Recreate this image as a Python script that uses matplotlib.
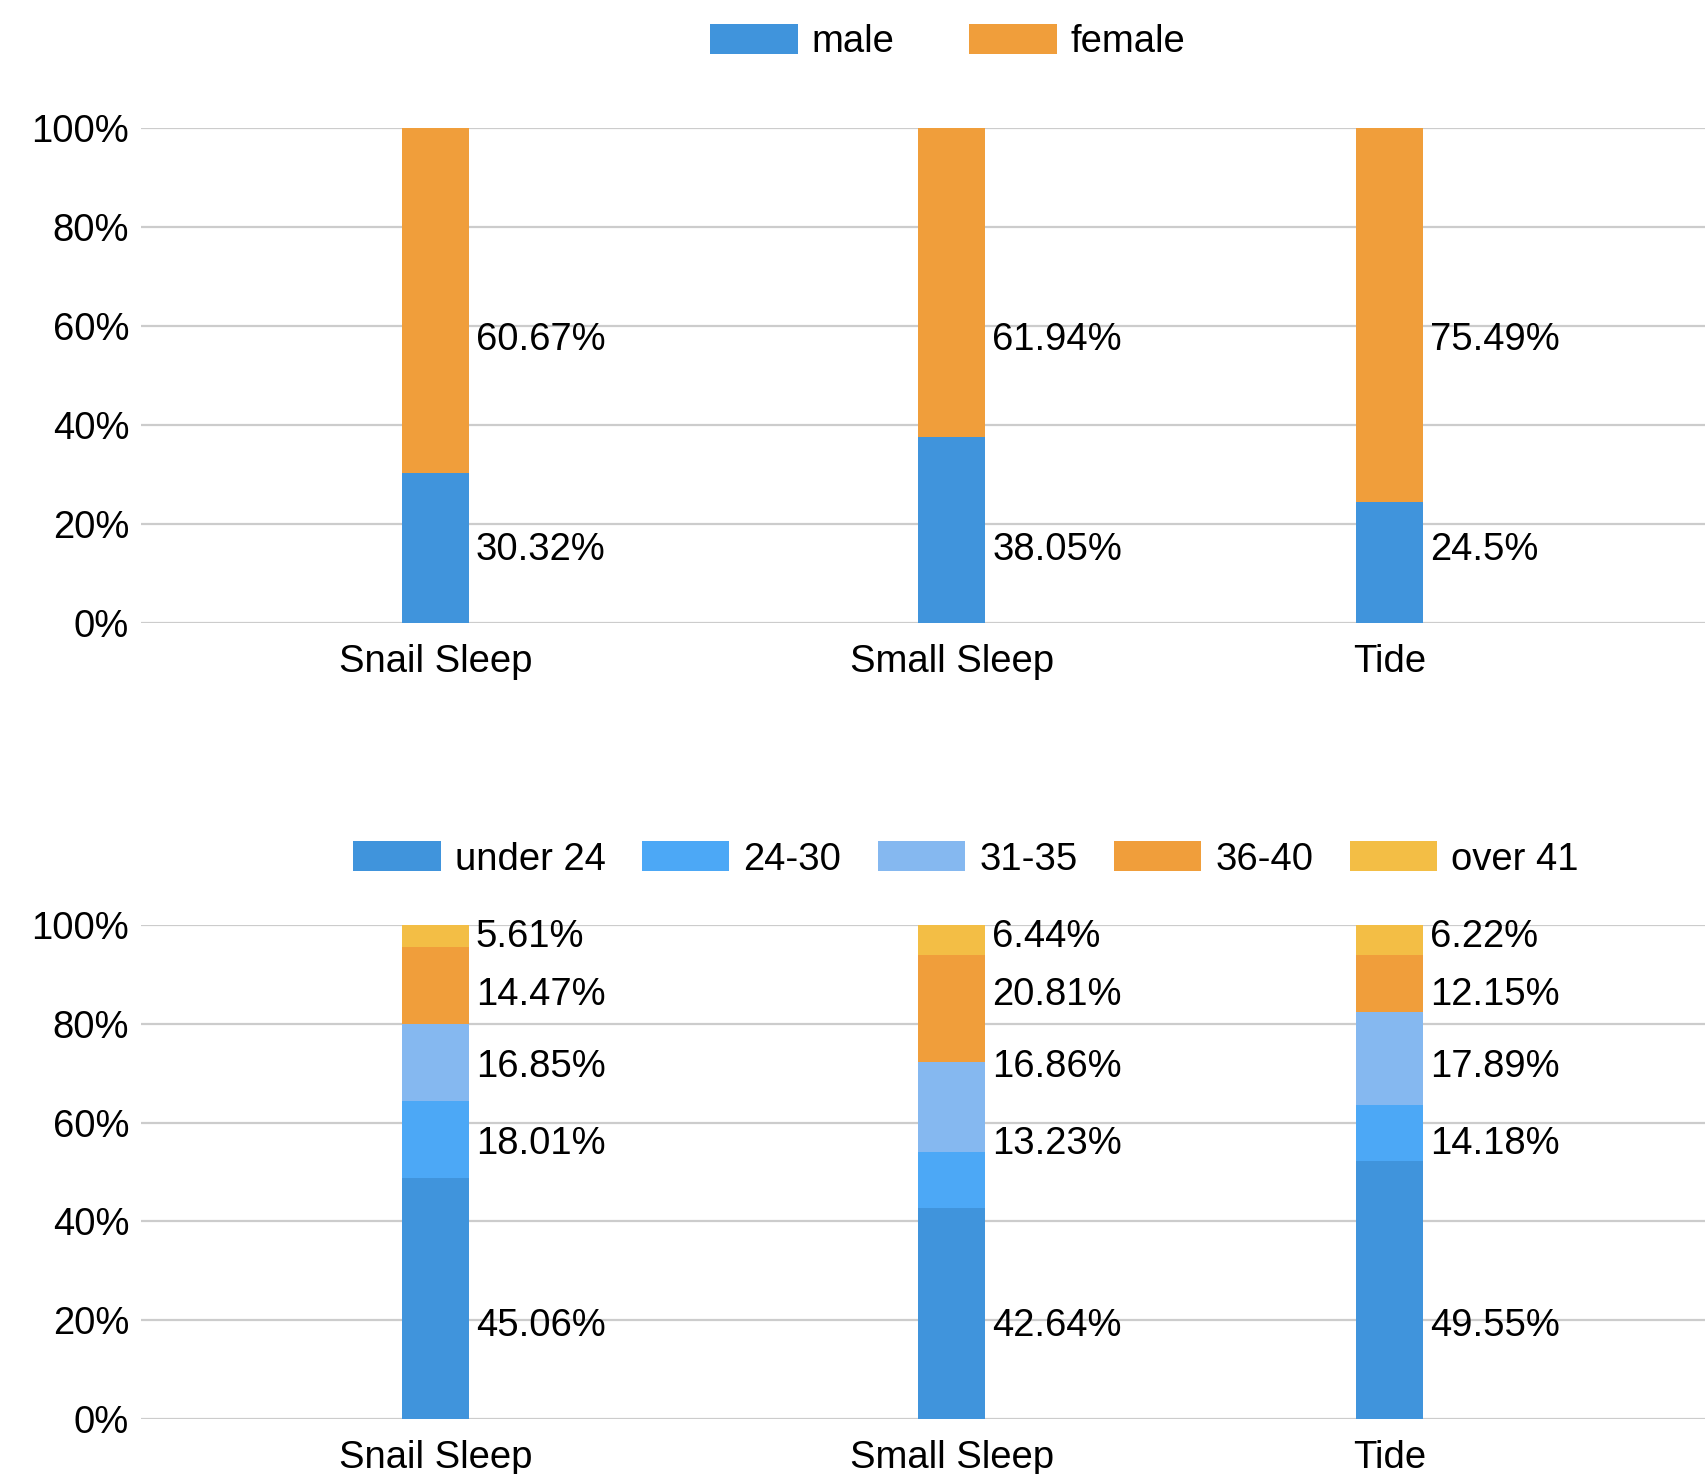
import matplotlib.pyplot as plt
import numpy as np

plt.rcParams['font.family'] = ['Liberation Sans', 'DejaVu Sans']
plt.rcParams['font.size'] = 27.5

apps = ['Snail Sleep', 'Small Sleep', 'Tide']

# gender: bar shares as drawn, and the labels printed next to them
gender_names = ['male', 'female']
male_bar = [30.3, 37.6, 24.4]
female_bar = [69.7, 62.4, 75.6]
male_label = ['30.32%', '38.05%', '24.5%']
female_label = ['60.67%', '61.94%', '75.49%']

# age groups
age_names = ['under 24', '24-30', '31-35', '36-40', 'over 41']
age_bar = [
    [48.7, 42.7, 52.2],
    [15.6, 11.3, 11.3],
    [15.7, 18.2, 18.9],
    [15.5, 21.8, 11.6],
    [4.5, 6.0, 6.0],
]
age_label = [
    ['45.06%', '42.64%', '49.55%'],
    ['18.01%', '13.23%', '14.18%'],
    ['16.85%', '16.86%', '17.89%'],
    ['14.47%', '20.81%', '12.15%'],
    ['5.61%', '6.44%', '6.22%'],
]

# layout
x_pos = np.array([0, 1, 1.847])
bar_w = 0.13
gender_label_y = [14.7, 57.1]
age_label_y = [18.9, 55.6, 71.2, 85.9, 97.5]
gender_colors = ['#4094DC', '#F09E3B']
age_colors = ['#4094DC', '#4CA8F6', '#85B8F0', '#F09E3B', '#F3BE45']

fig = plt.figure(figsize=(17.05, 14.74), dpi=100)
ax1 = fig.add_axes([0.0827, 0.5773, 0.9173, 0.3359])
ax2 = fig.add_axes([0.0827, 0.0373, 0.9173, 0.3352])


def style_axis(ax):
    ax.set_ylim(0, 100)
    ax.set_xlim(-0.570, 2.458)
    ax.set_yticks([0, 20, 40, 60, 80, 100])
    ax.set_yticklabels([f'{v}%' for v in range(0, 101, 20)])
    ax.set_xticks(x_pos)
    ax.set_xticklabels(apps)
    ax.tick_params(axis='y', length=0, pad=8.5)
    ax.tick_params(axis='x', length=0, pad=15)
    for s in ax.spines.values():
        s.set_visible(False)
    ax.grid(axis='y', color='#CCCCCC', linewidth=1.6)
    ax.set_axisbelow(True)


# top chart: gender
bottom = np.zeros(3)
for vals, labels, name, col, ly in zip([male_bar, female_bar], [male_label, female_label],
                                       gender_names, gender_colors, gender_label_y):
    ax1.bar(x_pos, vals, bar_w, bottom=bottom, color=col, label=name, linewidth=0)
    bottom += np.array(vals)
    for xp, txt in zip(x_pos, labels):
        ax1.annotate(txt, xy=(xp + bar_w / 2, ly), xytext=(5, 0), textcoords='offset points',
                     va='center', ha='left')
style_axis(ax1)
fig.legend(*ax1.get_legend_handles_labels(), loc='center', bbox_to_anchor=(0.556, 0.9715),
           ncol=2, frameon=False, handlelength=2.29, handleheight=0.83, handletextpad=0.37,
           columnspacing=1.95, borderpad=0)

# bottom chart: age
bottom = np.zeros(3)
for vals, labels, name, col, ly in zip(age_bar, age_label, age_names, age_colors, age_label_y):
    ax2.bar(x_pos, vals, bar_w, bottom=bottom, color=col, label=name, linewidth=0)
    bottom += np.array(vals)
    for xp, txt in zip(x_pos, labels):
        ax2.annotate(txt, xy=(xp + bar_w / 2, ly), xytext=(5, 0), textcoords='offset points',
                     va='center', ha='left')
style_axis(ax2)
fig.legend(*ax2.get_legend_handles_labels(), loc='center', bbox_to_anchor=(0.5666, 0.4169),
           ncol=5, frameon=False, handlelength=2.29, handleheight=0.83, handletextpad=0.37,
           columnspacing=0.95, borderpad=0)

fig.savefig('out.png', dpi=100)
